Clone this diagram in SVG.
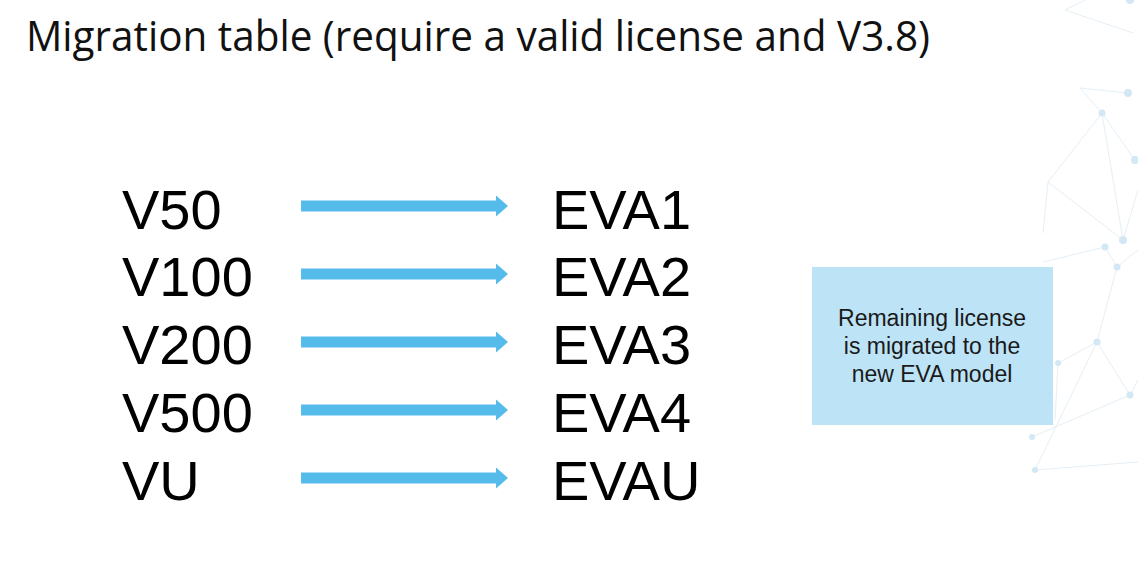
<svg xmlns="http://www.w3.org/2000/svg" xmlns:xlink="http://www.w3.org/1999/xlink" width="1138" height="575" viewBox="0 0 1138 575">
  <style>
    .title { font-family: "Open Sans", "Noto Sans", "Liberation Sans", sans-serif; font-size: 42px; fill: #111111; }
    .big { font-family: "Liberation Sans", Arial, sans-serif; font-size: 56px; fill: #000000; }
    .note { font-family: "Liberation Sans", Arial, sans-serif; font-size: 23px; fill: #1a1a1a; text-anchor: middle; }
    .arrow { fill: #55BBEA; }
    .notebox { fill: #BDE3F6; }
    .deco-line { stroke: #e4eff6; stroke-width: 1; fill: none; }
    .deco-dot { fill: #d3e8f4; }
  </style>
  <defs>
    <path id="arrow" d="M301,-5.5 H496 V-10.5 L508,0 L496,10.5 V5.5 H301 Z"/>
  </defs>
  <rect x="0" y="0" width="1138" height="575" fill="#ffffff"/>

  <g id="decoration">
    <path class="deco-line" d="M1065,10 L1133,33 M1065,10 L1085,0 M1080,88 L1128,93 M1080,88 L1102,113 M1102,113 L1048,182 M1102,113 L1123,240 M1102,113 L1135,160 M1048,182 L1043,233 M1048,182 L1123,240 M1123,240 L1138,190 M1105,247 L1117,267 M1043,262 L1105,247 M1117,267 L1138,250 M1117,267 L1097,342 M1097,342 L1058,363 M1097,342 L1130,395 M1058,363 L1055,420 M1032,437 L1130,395 M1035,470 L1138,462 M1035,470 L1097,342 M1130,395 L1138,380"/>
    <circle class="deco-dot" cx="1130" cy="0" r="4"/>
    <circle class="deco-dot" cx="1128" cy="93" r="4"/>
    <circle class="deco-dot" cx="1102" cy="113" r="3.5"/>
    <circle class="deco-dot" cx="1135" cy="160" r="4"/>
    <circle class="deco-dot" cx="1123" cy="240" r="4"/>
    <circle class="deco-dot" cx="1105" cy="247" r="3.5"/>
    <circle class="deco-dot" cx="1117" cy="267" r="3.5"/>
    <circle class="deco-dot" cx="1097" cy="342" r="3.5"/>
    <circle class="deco-dot" cx="1058" cy="363" r="3"/>
    <circle class="deco-dot" cx="1130" cy="395" r="3.5"/>
    <circle class="deco-dot" cx="1032" cy="437" r="3"/>
    <circle class="deco-dot" cx="1035" cy="470" r="3"/>
  </g>

  <g id="title">
    <text class="title" x="26" y="51" textLength="904" lengthAdjust="spacingAndGlyphs">Migration table (require a valid license and V3.8)</text>
  </g>

  <g id="node-V50"><text class="big" x="122" y="229">V50</text></g>
  <g id="node-V100"><text class="big" x="122" y="296">V100</text></g>
  <g id="node-V200"><text class="big" x="122" y="364">V200</text></g>
  <g id="node-V500"><text class="big" x="122" y="432">V500</text></g>
  <g id="node-VU"><text class="big" x="122" y="500">VU</text></g>

  <g id="node-EVA1"><text class="big" x="552" y="229">EVA1</text></g>
  <g id="node-EVA2"><text class="big" x="552" y="296">EVA2</text></g>
  <g id="node-EVA3"><text class="big" x="552" y="364">EVA3</text></g>
  <g id="node-EVA4"><text class="big" x="552" y="432">EVA4</text></g>
  <g id="node-EVAU"><text class="big" x="552" y="500">EVAU</text></g>

  <g id="connectors">
    <use class="arrow" xlink:href="#arrow" href="#arrow" transform="translate(0,206)"/>
    <use class="arrow" xlink:href="#arrow" href="#arrow" transform="translate(0,274)"/>
    <use class="arrow" xlink:href="#arrow" href="#arrow" transform="translate(0,342)"/>
    <use class="arrow" xlink:href="#arrow" href="#arrow" transform="translate(0,410)"/>
    <use class="arrow" xlink:href="#arrow" href="#arrow" transform="translate(0,478)"/>
  </g>

  <g id="node-note">
    <rect class="notebox" x="812" y="267" width="241" height="158"/>
    <text class="note" x="932" y="326">Remaining license</text>
    <text class="note" x="932" y="354">is migrated to the</text>
    <text class="note" x="932" y="382">new EVA model</text>
  </g>
</svg>
